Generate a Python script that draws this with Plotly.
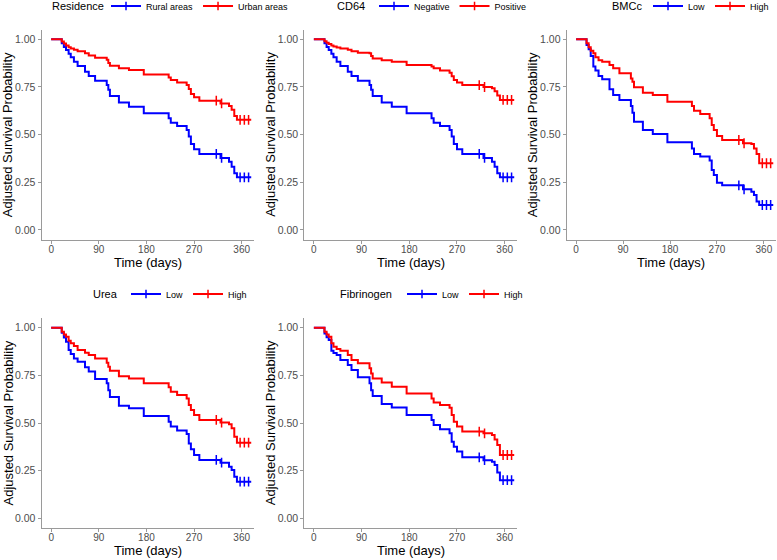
import plotly.graph_objects as go

# ---- data ----
event_days = [0, 20, 24, 28, 33, 37, 43, 50, 64, 71, 83, 105, 108, 111, 128, 147, 175,
              222, 226, 238, 256, 260, 264, 270, 280, 320, 336, 341, 346, 351]
end_day = 378
censor_days = [312, 322, 357, 365, 373]
x_ticks = [0, 90, 180, 270, 360]
y_ticks = [0.0, 0.25, 0.5, 0.75, 1.0]

residence_rural = [1.000, 0.980, 0.960, 0.944, 0.925, 0.906, 0.883, 0.860, 0.830, 0.808, 0.783, 0.760, 0.735, 0.703, 0.668,
                   0.647, 0.612, 0.586, 0.563, 0.545, 0.524, 0.490, 0.451, 0.423, 0.399, 0.378, 0.358, 0.332, 0.297, 0.276]
residence_urban = [1.000, 0.988, 0.978, 0.968, 0.958, 0.952, 0.945, 0.938, 0.927, 0.915, 0.904, 0.893, 0.876, 0.862, 0.848,
                   0.839, 0.815, 0.800, 0.787, 0.773, 0.760, 0.740, 0.713, 0.696, 0.678, 0.664, 0.650, 0.630, 0.598, 0.578]
cd64_negative = [1.000, 0.980, 0.960, 0.944, 0.925, 0.906, 0.883, 0.860, 0.830, 0.808, 0.783, 0.760, 0.735, 0.703, 0.668,
                 0.647, 0.612, 0.586, 0.563, 0.545, 0.524, 0.490, 0.451, 0.423, 0.399, 0.378, 0.358, 0.332, 0.297, 0.276]
cd64_positive = [1.000, 0.990, 0.982, 0.975, 0.968, 0.962, 0.957, 0.952, 0.946, 0.938, 0.930, 0.927, 0.912, 0.900, 0.890,
                 0.883, 0.865, 0.857, 0.848, 0.836, 0.825, 0.806, 0.787, 0.773, 0.760, 0.750, 0.743, 0.728, 0.705, 0.682]
bmcc_low = [1.000, 0.970, 0.948, 0.913, 0.857, 0.836, 0.808, 0.790, 0.738, 0.708, 0.682, 0.650, 0.615, 0.568, 0.524,
            0.503, 0.460, 0.428, 0.399, 0.385, 0.364, 0.315, 0.288, 0.248, 0.234, 0.213, 0.200, 0.184, 0.149, 0.131]
bmcc_high = [1.000, 0.980, 0.958, 0.940, 0.927, 0.906, 0.890, 0.883, 0.865, 0.848, 0.822, 0.795, 0.778, 0.748, 0.720,
             0.708, 0.673, 0.650, 0.626, 0.608, 0.586, 0.551, 0.524, 0.493, 0.472, 0.455, 0.451, 0.428, 0.399, 0.350]
urea_low = [1.000, 0.974, 0.949, 0.927, 0.883, 0.862, 0.839, 0.822, 0.792, 0.770, 0.731, 0.708, 0.672, 0.636, 0.590,
            0.578, 0.537, 0.507, 0.481, 0.460, 0.442, 0.393, 0.362, 0.332, 0.306, 0.292, 0.271, 0.253, 0.218, 0.192]
urea_high = [1.000, 0.979, 0.965, 0.953, 0.932, 0.918, 0.904, 0.883, 0.869, 0.857, 0.839, 0.816, 0.795, 0.774, 0.746,
             0.734, 0.708, 0.687, 0.664, 0.647, 0.629, 0.594, 0.568, 0.542, 0.516, 0.502, 0.493, 0.472, 0.428, 0.397]
fibrinogen_low = [1.000, 0.970, 0.950, 0.935, 0.879, 0.868, 0.857, 0.830, 0.804, 0.778, 0.740, 0.708, 0.672, 0.642, 0.600,
                  0.582, 0.542, 0.516, 0.490, 0.467, 0.446, 0.402, 0.376, 0.350, 0.320, 0.305, 0.297, 0.280, 0.240, 0.200]
fibrinogen_high = [1.000, 0.979, 0.965, 0.953, 0.918, 0.900, 0.889, 0.879, 0.857, 0.830, 0.813, 0.787, 0.760, 0.734, 0.712,
                   0.690, 0.655, 0.629, 0.608, 0.594, 0.580, 0.542, 0.507, 0.481, 0.455, 0.446, 0.437, 0.414, 0.385, 0.332]

panel_titles = ["Residence", "CD64", "BMCc", "Urea", "Fibrinogen"]
panel_labels = [["Rural areas", "Urban areas"], ["Negative", "Positive"], ["Low", "High"],
                ["Low", "High"], ["Low", "High"]]
panel_series = [[residence_rural, residence_urban], [cd64_negative, cd64_positive],
                [bmcc_low, bmcc_high], [urea_low, urea_high], [fibrinogen_low, fibrinogen_high]]

# ---- styling / layout (pixels) ----
W, H = 777, 560
colors = ["#0000FF", "#FF0000"]
FONT = "Liberation Sans, Arial, sans-serif"
AXIS_COL = "#9a9a9a"
TICK_COL = "#4d4d4d"
# plot-area boxes: (left, right, top, bottom) in pixels
boxes = [(41.5, 254, 29.8, 239.5), (304.2, 517, 29.8, 239.5), (566.6, 776, 29.8, 239.5),
         (41.5, 254, 318.2, 527.8), (304.2, 517, 318.2, 527.8)]
# legend title left x, title right x, centre y
legend_pos = [(50, 95, 6), (335, 363, 6), (610, 637, 6), (91, 115, 294), (338, 391, 294)]


def step_value(days, vals, t):
    v = vals[0]
    for d, s in zip(days, vals):
        if d <= t:
            v = s
    return v


fig = go.Figure()
layout = dict(width=W, height=H, margin=dict(l=0, r=0, t=0, b=0, autoexpand=False),
              paper_bgcolor="white", plot_bgcolor="white", showlegend=True,
              font=dict(family=FONT, color="black"))
annotations = []

for i, (title, labels, series) in enumerate(zip(panel_titles, panel_labels, panel_series)):
    k = "" if i == 0 else str(i + 1)
    xa, ya = "x" + k, "y" + k
    lg = "legend" + k
    for lab, vals, col in zip(labels, series, colors):
        xs = event_days + [end_day]
        ys = vals + [vals[-1]]
        fig.add_trace(go.Scatter(x=xs, y=ys, mode="lines", line=dict(color=col, width=2, shape="hv"),
                                 xaxis=xa, yaxis=ya, showlegend=False, hoverinfo="skip"))
        cy = [step_value(event_days, vals, c) for c in censor_days]
        fig.add_trace(go.Scatter(x=censor_days, y=cy, mode="markers",
                                 marker=dict(symbol="line-ns-open", size=7, color=col, line=dict(color=col, width=1.5)),
                                 xaxis=xa, yaxis=ya, showlegend=False, hoverinfo="skip"))
        fig.add_trace(go.Scatter(x=[None], y=[None], mode="lines+markers", name=lab,
                                 line=dict(color=col, width=2),
                                 marker=dict(symbol="line-ns-open", size=6, color=col, line=dict(color=col, width=1.5)),
                                 xaxis=xa, yaxis=ya, legend=lg, showlegend=True))
    l, r, t, b = boxes[i]
    layout["xaxis" + k] = dict(domain=[l / W, r / W], range=[-18.25, 383.25], anchor=ya,
                               tickvals=x_ticks, ticktext=[str(v) for v in x_ticks],
                               showline=True, linecolor=AXIS_COL, linewidth=1, ticks="outside", ticklen=3,
                               tickcolor=AXIS_COL, tickfont=dict(size=10, color=TICK_COL, family=FONT),
                               ticklabelstandoff=-3,
                               showgrid=False, zeroline=False)
    layout["yaxis" + k] = dict(domain=[1 - b / H, 1 - t / H], range=[-0.05, 1.05], anchor=xa,
                               tickvals=y_ticks, ticktext=["%.2f" % v for v in y_ticks],
                               showline=True, linecolor=AXIS_COL, linewidth=1, ticks="outside", ticklen=3,
                               tickcolor=AXIS_COL, tickfont=dict(size=10.5, color=TICK_COL, family=FONT),
                               showgrid=False, zeroline=False)
    tl, tr, ty = legend_pos[i]
    layout[lg] = dict(orientation="h", x=(tr + 11) / W, y=1 - ty / H, xanchor="left", yanchor="middle",
                      font=dict(size=9, family=FONT, color="black"), bgcolor="rgba(0,0,0,0)",
                      itemwidth=30, tracegroupgap=0, borderwidth=0)
    annotations.append(dict(text=title, x=tl / W, y=1 - ty / H, xref="paper", yref="paper", showarrow=False,
                            font=dict(size=11, family=FONT, color="black"), xanchor="left", yanchor="middle"))
    annotations.append(dict(text="Time (days)", x=(l + r) / 2 / W, y=1 - (b + 22.5) / H, xref="paper", yref="paper",
                            showarrow=False, font=dict(size=13, family=FONT, color="black"),
                            xanchor="center", yanchor="middle"))
    annotations.append(dict(text="Adjusted Survival Probability", x=(l - 34) / W, y=1 - (t + b) / 2 / H,
                            xref="paper", yref="paper", showarrow=False, textangle=-90,
                            font=dict(size=13, family=FONT, color="black"), xanchor="center", yanchor="middle"))

layout["annotations"] = annotations
fig.update_layout(**layout)
fig.write_html("out.html")
